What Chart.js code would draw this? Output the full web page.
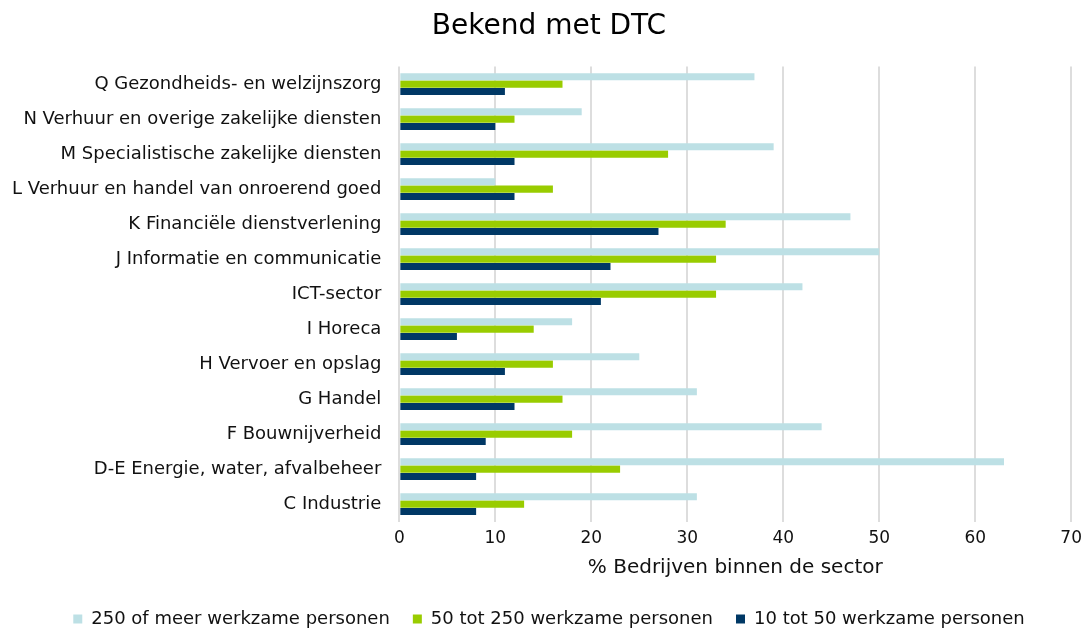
<!DOCTYPE html>
<html lang="nl">
<head>
    <meta charset="UTF-8">
    <title>Bekend met DTC</title>
    <script src="https://cdn.jsdelivr.net/npm/chart.js"></script>
    <style>
        html, body {
            margin: 0;
            padding: 0;
            background: #ffffff;
        }
        .chart-box {
            width: 1089px;
            height: 628px;
            position: relative;
        }
    </style>
</head>
<body>
    <div class="chart-box">
        <canvas id="dtcChart"></canvas>
    </div>

    <script>
        // Sectors, top to bottom
        const sectors = [
            'Q Gezondheids- en welzijnszorg',
            'N Verhuur en overige zakelijke diensten',
            'M Specialistische zakelijke diensten',
            'L Verhuur en handel van onroerend goed',
            'K Financiële dienstverlening',
            'J Informatie en communicatie',
            'ICT-sector',
            'I Horeca',
            'H Vervoer en opslag',
            'G Handel',
            'F Bouwnijverheid',
            'D-E Energie, water, afvalbeheer',
            'C Industrie'
        ];

        // % bedrijven per size class
        const large = [37, 19, 39, 10, 47, 50, 42, 18, 25, 31, 44, 63, 31];   // 250 of meer
        const medium = [17, 12, 28, 16, 34, 33, 33, 14, 16, 17, 18, 23, 13];  // 50 tot 250
        const small = [11, 10, 12, 12, 27, 22, 21, 6, 11, 12, 9, 8, 8];       // 10 tot 50

        const seriesNames = [
            '250 of meer werkzame personen',
            '50 tot 250 werkzame personen',
            '10 tot 50 werkzame personen'
        ];

        const xTicks = [0, 10, 20, 30, 40, 50, 60, 70];

        const fontFamily = "'DejaVu Sans', Verdana, sans-serif";
        const textColor = '#111111';

        const ctx = document.getElementById('dtcChart').getContext('2d');

        new Chart(ctx, {
            type: 'bar',
            data: {
                labels: sectors,
                datasets: [
                    {
                        label: seriesNames[0],
                        data: large,
                        backgroundColor: '#bde0e5'
                    },
                    {
                        label: seriesNames[1],
                        data: medium,
                        backgroundColor: '#99cc00'
                    },
                    {
                        label: seriesNames[2],
                        data: small,
                        backgroundColor: '#003865'
                    }
                ]
            },
            options: {
                indexAxis: 'y',
                responsive: true,
                maintainAspectRatio: false,
                animation: false,
                datasets: {
                    bar: {
                        categoryPercentage: 0.63,
                        barPercentage: 0.96
                    }
                },
                layout: {
                    // slightly negative sides to hug the canvas edges like the original
                    padding: { top: 4, right: -15, bottom: -10, left: -6 }
                },
                plugins: {
                    title: {
                        display: true,
                        text: 'Bekend met DTC',
                        color: '#000000',
                        font: { family: fontFamily, size: 28, weight: 'normal' },
                        padding: { top: 6, bottom: 23 }
                    },
                    legend: {
                        position: 'bottom',
                        labels: {
                            color: textColor,
                            font: { family: fontFamily, size: 18 },
                            boxWidth: 9,
                            boxHeight: 9,
                            padding: 23
                        }
                    },
                    tooltip: { enabled: false }
                },
                scales: {
                    x: {
                        min: 0,
                        max: 70,
                        afterBuildTicks: function(axis) {
                            axis.ticks = xTicks.map(v => ({ value: v }));
                        },
                        grid: {
                            color: '#dddddd',
                            lineWidth: 2,
                            drawTicks: false
                        },
                        border: { display: false },
                        ticks: {
                            color: textColor,
                            font: { family: fontFamily, size: 17 },
                            padding: 7
                        },
                        title: {
                            display: true,
                            text: '% Bedrijven binnen de sector',
                            color: textColor,
                            font: { family: fontFamily, size: 20 },
                            padding: { top: 0, bottom: 7 }
                        }
                    },
                    y: {
                        grid: { display: false, drawTicks: false },
                        border: { display: false },
                        ticks: {
                            color: textColor,
                            font: { family: fontFamily, size: 18 },
                            padding: 18,
                            autoSkip: false
                        }
                    }
                }
            }
        });
    </script>
</body>
</html>
